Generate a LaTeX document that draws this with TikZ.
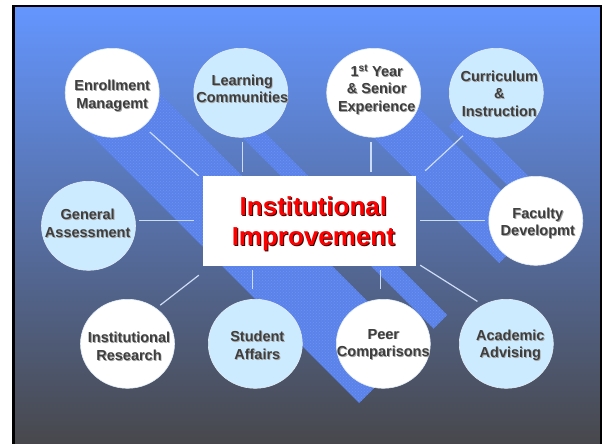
\documentclass[tikz,border=0pt]{standalone}
\usepackage{fontspec}
\setmainfont{Liberation Sans}
\usetikzlibrary{shapes.geometric,patterns}
\definecolor{bgtop}{RGB}{100,150,255}
\definecolor{bgmid}{RGB}{86,112,190}
\definecolor{bgbot}{RGB}{72,72,76}
\definecolor{bandc}{RGB}{90,130,232}
\definecolor{banddot}{RGB}{108,148,245}
\definecolor{bubblue}{RGB}{204,235,255}
\definecolor{txtgrey}{RGB}{62,62,62}
\definecolor{txtshd}{RGB}{165,165,165}
\definecolor{ttlshd}{RGB}{60,0,0}
\definecolor{connc}{RGB}{205,220,245}
\definecolor{rimc}{RGB}{225,235,245}
\newcommand\bshd[1]{\leavevmode\rlap{\kern0.9pt\raisebox{-0.9pt}{\textcolor{txtshd}{#1}}}#1}
\newcommand\tshd[1]{\leavevmode\rlap{\kern1.0pt\raisebox{-1.0pt}{\textcolor{ttlshd}{#1}}}#1}
\begin{document}
\begin{tikzpicture}[x=1pt,y=-1pt,
  bub/.style={ellipse, minimum width=94pt, minimum height=89pt, inner sep=0pt, draw=rimc, line width=0.6pt},
  bubtxt/.style={font=\bfseries\fontsize{14.5}{17.5}\selectfont, text=txtgrey, align=center, inner sep=0pt},
  ttltxt/.style={font=\bfseries\fontsize{26}{30}\selectfont, text=red, align=center, inner sep=0pt},
  conn/.style={draw=connc, line width=1.2pt},
  band/.style={fill=bandc, draw=none},
  bandtex/.style={pattern=crosshatch dots, pattern color=banddot, draw=none}]

\useasboundingbox (0,0) rectangle (605,444);
\fill[white] (0,0) rectangle (605,444);
\shade[top color=bgtop, middle color=bgmid, bottom color=bgbot] (13.5,5.7) rectangle (601,444);

% diagonal textured bands
\foreach \p in {
  {(73,117) -- (128,62) -- (414,348) -- (359,403) -- cycle},
  {(202.5,97.5) -- (216,84) -- (447,315) -- (433.5,328.5) -- cycle},
  {(343,107) -- (380.5,69.5) -- (536.5,225.5) -- (499,263) -- cycle},
  {(448.5,126.5) -- (463.5,111.5) -- (557,205) -- (542,220) -- cycle}}{
  \fill[band] \p;
  \fill[bandtex] \p;
}

% frame
\draw[black, line width=2.2pt] (13.5,444) -- (13.5,5.7) -- (601,5.7) -- (601,444);

% central box
\node[fill=white, draw=none, minimum width=213.3pt, minimum height=90pt, inner sep=0pt] (box) at (309.35,221) {};
\node[ttltxt] (ttl) at (313.4,224.5) {\tshd{Institutional}\\\tshd{Improvement}};

% bubbles
\node[bub, fill=white]    (enr)   at (112.2,92.8) {};
\node[bub, fill=bubblue]  (learn) at (240.8,92.8) {};
\node[bub, fill=white]    (first) at (373.7,92.8) {};
\node[bub, fill=bubblue]  (curr)  at (496.3,92.8) {};
\node[bub, fill=bubblue]  (gen)   at (88.5,225.8) {};
\node[bub, fill=white]    (fac)   at (535.8,220.8) {};
\node[bub, fill=white]    (ir)    at (127.5,343.8) {};
\node[bub, fill=bubblue]  (sa)    at (255.3,343.8) {};
\node[bub, fill=white]    (peer)  at (383.3,343.8) {};
\node[bub, fill=bubblue]  (acad)  at (506.3,343.8) {};

\node[bubtxt] (enrT)   at (112.2,96.3)  {\bshd{Enrollment}\\\bshd{Managemt}};
\node[bubtxt] (learnT) at (242.3,89.5)  {\bshd{Learning}\\\bshd{Communities}};
\node[bubtxt] (firstT) at (376.7,90)    {\bshd{1\textsuperscript{st} Year}\\\bshd{\& Senior}\\\bshd{Experience}};
\node[bubtxt] (currT)  at (499.3,94)    {\bshd{Curriculum}\\\bshd{\&}\\\bshd{Instruction}};
\node[bubtxt] (genT)   at (87.7,223.8)  {\bshd{General}\\\bshd{Assessment}};
\node[bubtxt] (facT)   at (537.8,223.8) {\bshd{Faculty}\\\bshd{Developmt}};
\node[bubtxt] (irT)    at (129,346.8)   {\bshd{Institutional}\\\bshd{Research}};
\node[bubtxt] (saT)    at (257.3,345.8) {\bshd{Student}\\\bshd{Affairs}};
\node[bubtxt] (peerT)  at (383.3,344.8) {\bshd{Peer}\\\bshd{Comparisons}};
\node[bubtxt] (acadT)  at (510.3,345.8) {\bshd{Academic}\\\bshd{Advising}};

% connectors
\draw[conn, shorten <=8.4pt] (enr.-47) -- ([xshift=-4pt]box.north west);
\draw[conn, shorten <=4.4pt, shorten >=4.3pt] ([xshift=2pt]learn.south) -- ([xshift=2pt]learn.south |- box.north);
\draw[conn, shorten <=4.4pt, shorten >=4.3pt] ([xshift=-2.7pt]first.south) -- ([xshift=-2.7pt]first.south |- box.north);
\draw[conn, shorten <=9pt] (curr.234) -- ([xshift=9pt,yshift=5pt]box.north east);
\draw[conn, shorten <=3.3pt, shorten >=8.7pt] ([yshift=5pt]gen.east) -- ([yshift=5pt]gen.east -| box.west);
\draw[conn, shorten <=4pt, shorten >=4pt] (fac.west) -- (fac.west -| box.east);
\draw[conn, shorten >=5pt] ([xshift=-3.7pt,yshift=-9pt]box.south west) -- (ir.51);
\draw[conn, shorten <=10pt, shorten >=4pt] ([xshift=-2.6pt]sa.north) -- ([xshift=-2.6pt]sa.north |- box.south);
\draw[conn, shorten <=10pt, shorten >=4pt] ([xshift=-2.6pt]peer.north) -- ([xshift=-2.6pt]peer.north |- box.south);
\draw[conn, shorten >=6.5pt] ([xshift=4pt,yshift=1pt]box.south east) -- (acad.121);
\end{tikzpicture}
\end{document}
